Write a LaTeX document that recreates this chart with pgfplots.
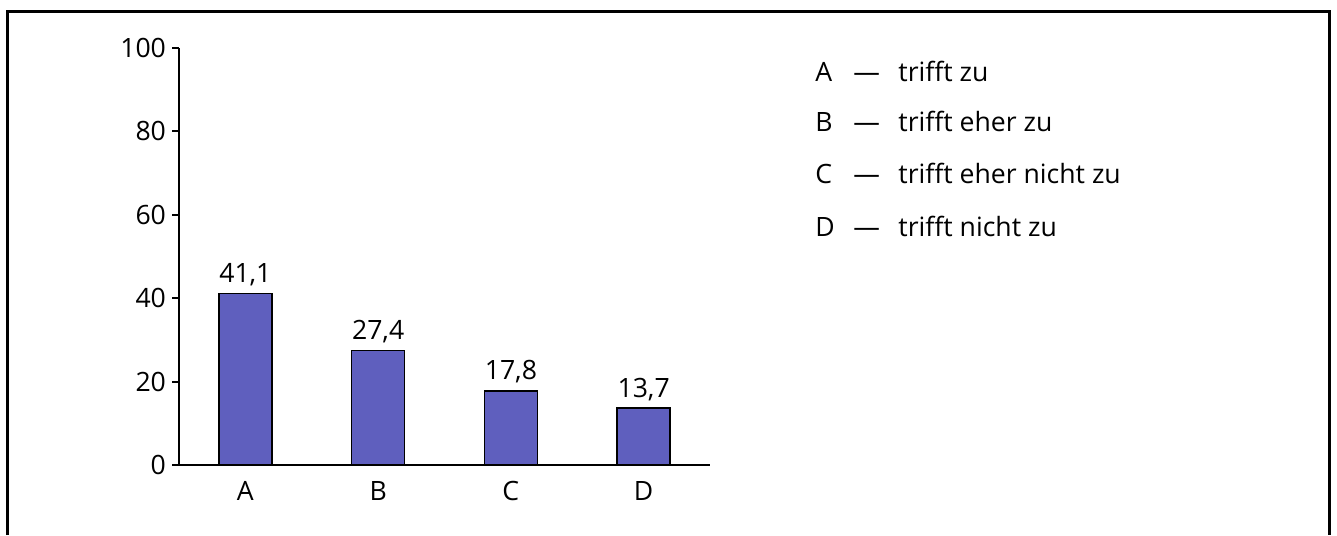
\documentclass[border=0pt]{standalone}
\usepackage{pgfplots}
\pgfplotsset{compat=1.18}
\usepackage{fontspec}
\setmainfont{Open Sans}
\definecolor{barblue}{RGB}{95,95,190}

\begin{document}
\begin{tikzpicture}[font=\fontsize{13.3pt}{15pt}\selectfont]
\useasboundingbox (0,0) rectangle (668.5pt,267.5pt);
% frame, open at the bottom
\draw[line width=1.5pt] (3.8pt,0) -- (3.8pt,261.75pt) -- (664.5pt,261.75pt) -- (664.5pt,0);

\begin{axis}[
    at={(89.5pt,35pt)}, anchor=south west,
    scale only axis, width=265.5pt, height=208.5pt,
    xmin=-0.5, xmax=3.5, ymin=0, ymax=100,
    axis x line=bottom, axis y line=left,
    axis line style={-, line width=1pt},
    xtick=data, xticklabels={A,B,C,D},
    ytick={0,20,40,60,80,100},
    tick align=outside, major tick length=3.5pt,
    every tick/.style={black, line width=1pt},
    every x tick/.style={draw=none},
    yticklabel style={xshift=0.5pt},
    xticklabel style={yshift=-1pt},
    /pgf/number format/assume math mode=true,
    ybar, bar width=26.5pt,
    nodes near coords={\pgfmathprintnumber[fixed,fixed zerofill,precision=1,use comma,assume math mode=true]{\pgfplotspointmeta}},
]
\addplot[fill=barblue, draw=black, line width=0.75pt] coordinates {
    (0, 41.1)
    (1, 27.4)
    (2, 17.8)
    (3, 13.7)
};
\end{axis}

\begin{scope}[every node/.style={anchor=base west, inner sep=0pt}]
\foreach \l/\t/\y in {A/trifft zu/226.65, B/trifft eher zu/201.65, C/trifft eher nicht zu/175.85, D/trifft nicht zu/149.15} {
    \node at (407.5pt,\y pt) {\l};
    \node at (426.5pt,\y pt) {—};
    \node at (449pt,\y pt) {\t};
}
\end{scope}
\end{tikzpicture}
\end{document}
